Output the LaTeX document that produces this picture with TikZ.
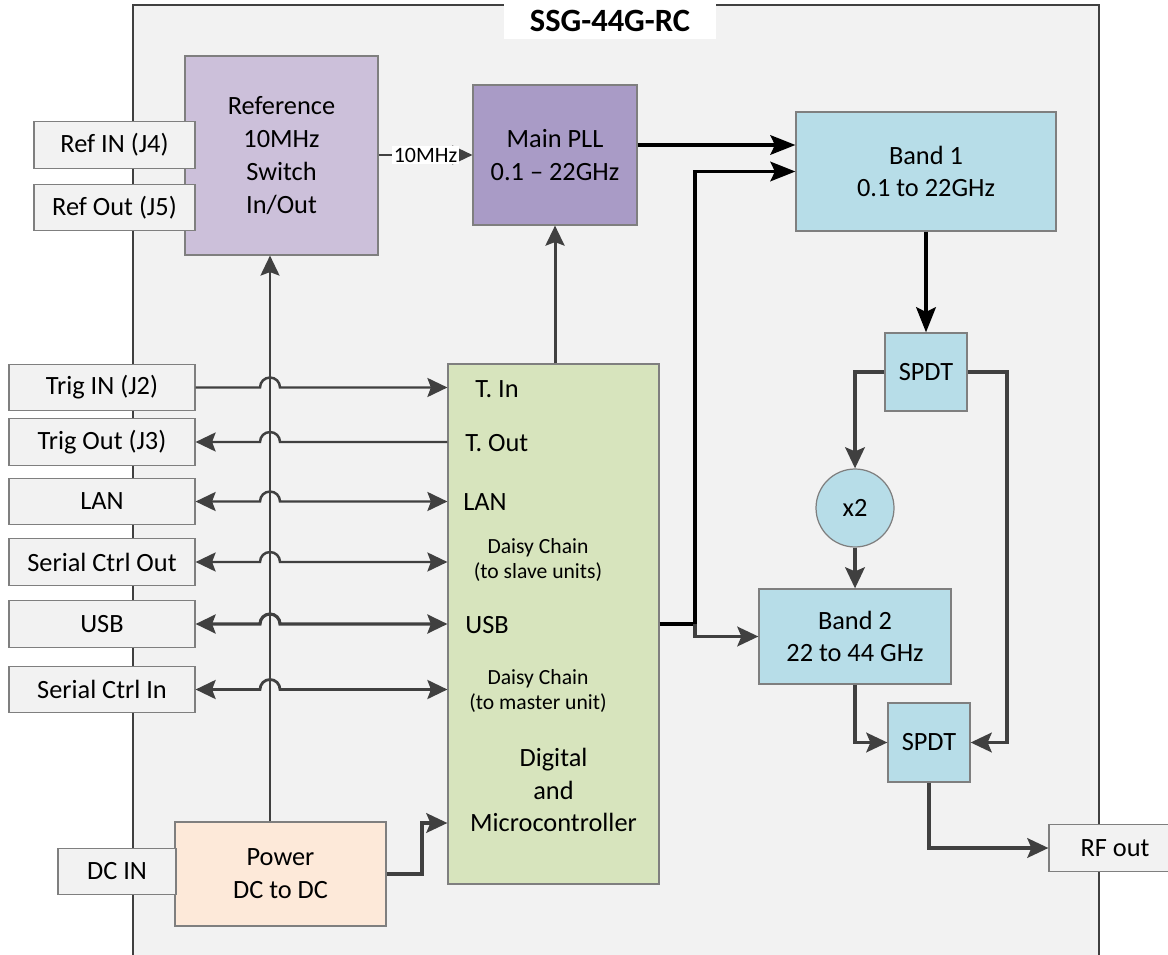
\documentclass[tikz,border=0pt]{standalone}
\usepackage{fontspec}
\setmainfont{Carlito}
\usetikzlibrary{arrows.meta,calc,positioning}

\definecolor{bggray}{HTML}{F2F2F2}
\definecolor{boxgray}{HTML}{7F7F7F}
\definecolor{dkgray}{HTML}{404040}
\definecolor{refpurple}{HTML}{CCC0DA}
\definecolor{pllpurple}{HTML}{A99BC6}
\definecolor{bandblue}{HTML}{B7DDE8}
\definecolor{diggreen}{HTML}{D7E4BD}
\definecolor{pwrpeach}{HTML}{FDE9D9}

\tikzset{
  blockbox/.style={draw=boxgray, line width=0.7pt, align=center, inner sep=0pt,
    font=\fontsize{15}{18.7}\selectfont},
  port/.style={blockbox, fill=bggray, minimum height=0.93cm},
  gwire/.style={draw=dkgray, line width=1.4pt, >={Stealth[length=4mm,width=3.8mm,inset=0.7mm]}},
  rfwire/.style={draw=dkgray, line width=2.2pt, >={Stealth[length=4.2mm,width=3.9mm,inset=0.8mm]}},
  bwire/.style={draw=black, line width=1.9pt, >={Stealth[length=5mm,width=3.9mm,inset=0.9mm]}},
  pinlabel/.style={anchor=west, inner sep=0pt, font=\fontsize{15}{18.7}\selectfont},
  smalllabel/.style={align=center, inner sep=0pt, font=\fontsize{12.3}{14.7}\selectfont},
}

\begin{document}
\begin{tikzpicture}[x=0.02cm,y=-0.02cm]
\useasboundingbox (0,0) rectangle (1168,955);
\fill[bggray] (133,5) rectangle (1099,960);
\draw[dkgray, line width=0.9pt] (133,960) -- (133,5) -- (1099,5) -- (1099,960);
\node[fill=white, minimum width=4.24cm, minimum height=0.72cm, inner sep=0pt,
  font=\bfseries\fontsize{18.5}{22}\selectfont] (title) at (610,21) {SSG-44G-RC};

% blocks
\node[blockbox, fill=refpurple, minimum width=3.86cm, minimum height=3.98cm] (ref) at (281.5,155.5) {Reference\\10MHz\\Switch\\In/Out};
\node[blockbox, fill=pllpurple, minimum width=3.28cm, minimum height=2.8cm] (pll) at (555,155) {Main PLL\\0.1 – 22GHz};
\node[blockbox, fill=bandblue, minimum width=5.2cm, minimum height=2.38cm] (band1) at (926,171.5) {Band 1\\0.1 to 22GHz};
\node[blockbox, fill=bandblue, minimum width=1.64cm, minimum height=1.56cm] (spdta) at (926,372) {SPDT};
\node[blockbox, fill=bandblue, circle, minimum size=1.56cm] (dbl) at (855,508) {x2};
\node[blockbox, fill=bandblue, minimum width=3.84cm, minimum height=1.9cm] (band2) at (855,636.5) {Band 2\\22 to 44 GHz};
\node[blockbox, fill=bandblue, minimum width=1.64cm, minimum height=1.58cm] (spdtb) at (929,742.5) {SPDT};
\node[blockbox, fill=diggreen, minimum width=4.22cm, minimum height=10.4cm] (dig) at (553.5,624) {};
\node[blockbox, fill=pwrpeach, minimum width=4.22cm, minimum height=2.08cm] (power) at (280.5,874) {Power\\DC to DC};

% ports
\node[port, minimum width=3.22cm] (refin) at (114.5,145) {Ref IN (J4)};
\node[port, minimum width=3.22cm] (refout) at (114.5,207.5) {Ref Out (J5)};
\node[port, minimum width=3.72cm] (trigin) at (102,387.5) {Trig IN (J2)};
\node[port, minimum width=3.72cm] (trigout) at (102,442) {Trig Out (J3)};
\node[port, minimum width=3.72cm] (lan) at (102,501.5) {LAN};
\node[port, minimum width=3.72cm] (serout) at (102,562) {Serial Ctrl Out};
\node[port, minimum width=3.72cm] (usb) at (102,624) {USB};
\node[port, minimum width=3.72cm] (serin) at (102,689.5) {Serial Ctrl In};
\node[port, minimum width=2.36cm] (dcin) at (117,871.5) {DC IN};
\node[port, minimum width=2.64cm] (rfout) at (1115,848) {RF out};

% labels inside the digital block
\node[pinlabel] (tin) at (475,389) {T. In};
\node[pinlabel] (tout) at (465,443) {T. Out};
\node[pinlabel] (lanpin) at (463,502) {LAN};
\node[smalllabel] (dslave) at (538,560) {Daisy Chain\\(to slave units)};
\node[pinlabel] (usbpin) at (465,625) {USB};
\node[smalllabel] (dmaster) at (538,691) {Daisy Chain\\(to master unit)};
\node[align=center, inner sep=0pt, font=\fontsize{15}{18.7}\selectfont] (diglabel) at (553.5,790) {Digital\\and\\Microcontroller};

\coordinate (hop) at (260,0);
\coordinate (pwx) at (270,0);
\coordinate (usbj) at (695,624);
\coordinate (pwj) at (422,823);
\coordinate (byp) at (1007,372);

% reference and power
\draw[gwire,->] (pll.west -| ref.east) -- node[fill=white, inner sep=1pt, font=\fontsize{12.5}{14}\selectfont] (tenmhz) {10MHz} (pll.west);
\draw[gwire,->] (power.north -| pwx) -- (ref.south -| pwx);
\draw[gwire,->, line width=1.7pt] (dig.north -| pll.south) -- (pll.south);
\draw[rfwire,->] (power.east) -| (pwj) -- (pwj -| dig.west);

% ports to digital
\draw[gwire,->] (trigin.east) -- (trigin.east -| hop) arc[start angle=180,end angle=0,radius=0.2cm] -- (trigin.east -| dig.west);
\draw[gwire,<-] (trigout.east) -- (trigout.east -| hop) arc[start angle=180,end angle=0,radius=0.2cm] -- (trigout.east -| dig.west);
\draw[gwire,<->] (lan.east) -- (lan.east -| hop) arc[start angle=180,end angle=0,radius=0.2cm] -- (lan.east -| dig.west);
\draw[gwire,<->] (serout.east) -- (serout.east -| hop) arc[start angle=180,end angle=0,radius=0.2cm] -- (serout.east -| dig.west);
\draw[gwire,<->, line width=1.8pt] (usb.east) -- (usb.east -| hop) arc[start angle=180,end angle=0,radius=0.2cm] -- (usb.east -| dig.west);
\draw[gwire,<->, line width=1.6pt] (serin.east) -- (serin.east -| hop) arc[start angle=180,end angle=0,radius=0.2cm] -- (serin.east -| dig.west);

% rf path
\draw[bwire,->] ($(pll.east)+(0,-10)$) -- ($(band1.west)+(0,-26.5)$);
\draw[bwire] (dig.east) -- (usbj);
\draw[bwire,->] (usbj) |- (band1.west);
\draw[rfwire,->] (usbj) |- (band2.west);
\draw[bwire,->, line width=2.3pt] (band1.south) -- (spdta.north);
\draw[rfwire,->] (spdta.west) -| (dbl.north);
\draw[rfwire,->] (dbl.south) -- (band2.north);
\draw[rfwire,->] (spdta.east) -- (byp) |- (spdtb.east);
\draw[rfwire,->] (band2.south) |- (spdtb.west);
\draw[rfwire,->] (spdtb.south) |- (rfout.west);
\end{tikzpicture}
\end{document}
